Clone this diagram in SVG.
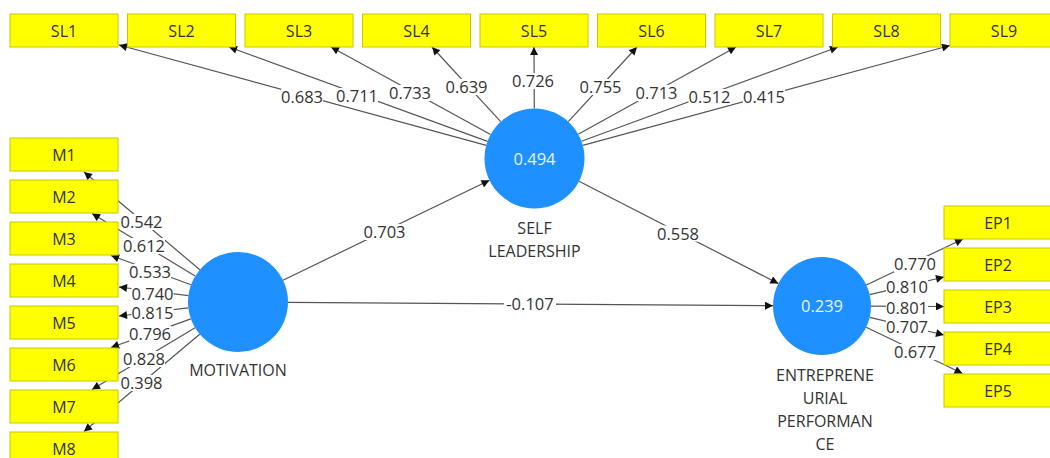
<svg xmlns="http://www.w3.org/2000/svg" width="1050" height="458" viewBox="0 0 1050 458">
  <defs>
    <marker id="arr" viewBox="0 0 10 10" refX="10" refY="5" markerWidth="9" markerHeight="8" markerUnits="userSpaceOnUse" orient="auto">
      <path d="M0,0 L10,5 L0,10 z" fill="#111"/>
    </marker>
  </defs>
  <style>
    .box { fill: #FFFF00; stroke: #C8C800; stroke-width: 1; }
    .lv { fill: #1E90FF; }
    .txt { font-family: "Open Sans", "Liberation Sans", sans-serif; font-size: 16px; fill: #333; text-anchor: middle; }
    .num { font-family: "Open Sans", "Liberation Sans", sans-serif; font-size: 16.5px; fill: #333; text-anchor: middle; }
    .r2 { font-family: "Open Sans", "Liberation Sans", sans-serif; font-size: 16.5px; fill: #EAF3FF; text-anchor: middle; }
    .edge { stroke: #555; stroke-width: 1.2; fill: none; marker-end: url(#arr); }
    .bg { fill: #fff; }
  </style>
  <rect width="1050" height="458" fill="#fff"/>

  <!-- connectors: lines first, then their value labels on white patches -->
  <g id="connectors">
    <!-- self leadership -> indicators -->
    <line class="edge" x1="486.3" y1="145.3" x2="119" y2="45"/>
    <line class="edge" x1="487.5" y1="141.4" x2="229" y2="47"/>
    <line class="edge" x1="490.6" y1="134.5" x2="331" y2="47"/>
    <line class="edge" x1="500.7" y1="121.7" x2="432" y2="47"/>
    <line class="edge" x1="534.3" y1="108.5" x2="534" y2="47"/>
    <line class="edge" x1="568.3" y1="121.7" x2="637" y2="47"/>
    <line class="edge" x1="578.2" y1="134.3" x2="736" y2="47"/>
    <line class="edge" x1="581.4" y1="141.3" x2="838" y2="47"/>
    <line class="edge" x1="582.8" y1="145.4" x2="950" y2="45.5"/>
    <!-- motivation -> indicators -->
    <line class="edge" x1="199.8" y1="269.7" x2="84" y2="172"/>
    <line class="edge" x1="195.2" y1="276.1" x2="92" y2="213.5"/>
    <line class="edge" x1="191" y1="284.8" x2="111" y2="255.5"/>
    <line class="edge" x1="188.4" y1="295.7" x2="119" y2="287"/>
    <line class="edge" x1="188.3" y1="307.8" x2="119" y2="316"/>
    <line class="edge" x1="190.9" y1="318.9" x2="111" y2="347.5"/>
    <line class="edge" x1="195.1" y1="327.7" x2="92" y2="389.5"/>
    <line class="edge" x1="199.7" y1="334.2" x2="84" y2="431.5"/>
    <!-- entrepreneurial performance -> indicators -->
    <line class="edge" x1="866.3" y1="285" x2="963" y2="239"/>
    <line class="edge" x1="869.7" y1="294.7" x2="944" y2="277"/>
    <line class="edge" x1="871" y1="306.2" x2="944" y2="306.5"/>
    <line class="edge" x1="869.7" y1="317.3" x2="944" y2="335"/>
    <line class="edge" x1="866.2" y1="327.2" x2="962.5" y2="373.5"/>
    <!-- structural paths -->
    <line class="edge" x1="283" y1="280.2" x2="489.5" y2="180.3"/>
    <line class="edge" x1="579" y1="181.3" x2="778.4" y2="283.6"/>
    <line class="edge" x1="288" y1="302.3" x2="773" y2="305.7"/>

    <!-- value labels -->
    <g>
      <rect class="bg" x="281" y="89" width="42" height="16"/><text class="num" x="302" y="103">0.683</text>
      <rect class="bg" x="336" y="88" width="42" height="16"/><text class="num" x="357" y="102">0.711</text>
      <rect class="bg" x="389" y="85" width="42" height="16"/><text class="num" x="410" y="99">0.733</text>
      <rect class="bg" x="445.5" y="79" width="42" height="16"/><text class="num" x="466.5" y="93">0.639</text>
      <rect class="bg" x="512" y="73" width="42" height="16"/><text class="num" x="533" y="87">0.726</text>
      <rect class="bg" x="579.5" y="79" width="42" height="16"/><text class="num" x="600.5" y="93">0.755</text>
      <rect class="bg" x="635.5" y="85" width="42" height="16"/><text class="num" x="656.5" y="99">0.713</text>
      <rect class="bg" x="688.5" y="89" width="42" height="16"/><text class="num" x="709.5" y="103">0.512</text>
      <rect class="bg" x="743" y="89" width="42" height="16"/><text class="num" x="764" y="103">0.415</text>

      <rect class="bg" x="120.5" y="214" width="42" height="16"/><text class="num" x="141.5" y="228">0.542</text>
      <rect class="bg" x="123" y="238" width="42" height="16"/><text class="num" x="144" y="252">0.612</text>
      <rect class="bg" x="129" y="264" width="42" height="16"/><text class="num" x="150" y="278">0.533</text>
      <rect class="bg" x="131.5" y="285.5" width="42" height="16"/><text class="num" x="152.5" y="299.5">0.740</text>
      <rect class="bg" x="131.5" y="305" width="42" height="16"/><text class="num" x="152.5" y="319">0.815</text>
      <rect class="bg" x="129" y="325.5" width="42" height="16"/><text class="num" x="150" y="339.5">0.796</text>
      <rect class="bg" x="123" y="351" width="42" height="16"/><text class="num" x="144" y="365">0.828</text>
      <rect class="bg" x="120.5" y="375" width="42" height="16"/><text class="num" x="141.5" y="389">0.398</text>

      <rect class="bg" x="894" y="256" width="42" height="16"/><text class="num" x="915" y="270">0.770</text>
      <rect class="bg" x="886" y="279" width="42" height="16"/><text class="num" x="907" y="293">0.810</text>
      <rect class="bg" x="886" y="299.5" width="42" height="16"/><text class="num" x="907" y="313.5">0.801</text>
      <rect class="bg" x="886" y="319" width="42" height="16"/><text class="num" x="907" y="333">0.707</text>
      <rect class="bg" x="894" y="344" width="42" height="16"/><text class="num" x="915" y="358">0.677</text>

      <rect class="bg" x="363" y="224" width="43" height="16"/><text class="num" x="384.5" y="238">0.703</text>
      <rect class="bg" x="656.5" y="225.5" width="43" height="16"/><text class="num" x="678" y="239.5">0.558</text>
      <rect class="bg" x="504" y="296" width="52" height="16"/><text class="num" x="530" y="310">-0.107</text>
    </g>
  </g>

  <!-- latent variables -->
  <g id="self-leadership">
    <circle class="lv" cx="534.5" cy="158.5" r="50"/>
    <text class="r2" x="534.5" y="164.5">0.494</text>
    <text class="txt" x="534.5" y="234">SELF</text>
    <text class="txt" x="534.5" y="256.5">LEADERSHIP</text>
  </g>
  <g id="motivation">
    <circle class="lv" cx="238" cy="302" r="50"/>
    <text class="txt" x="238" y="376">MOTIVATION</text>
  </g>
  <g id="entrepreneurial-performance">
    <circle class="lv" cx="822" cy="306" r="49"/>
    <text class="r2" x="822" y="312">0.239</text>
    <text class="txt" x="825" y="381">ENTREPRENE</text>
    <text class="txt" x="825" y="404">URIAL</text>
    <text class="txt" x="825" y="427">PERFORMAN</text>
    <text class="txt" x="825" y="450">CE</text>
  </g>

  <!-- indicators: self leadership -->
  <g id="SL1"><rect class="box" x="10" y="14" width="108" height="33"/><text class="txt" x="64" y="37">SL1</text></g>
  <g id="SL2"><rect class="box" x="127.5" y="14" width="108" height="33"/><text class="txt" x="181.5" y="37">SL2</text></g>
  <g id="SL3"><rect class="box" x="245" y="14" width="108" height="33"/><text class="txt" x="299" y="37">SL3</text></g>
  <g id="SL4"><rect class="box" x="362.5" y="14" width="108" height="33"/><text class="txt" x="416.5" y="37">SL4</text></g>
  <g id="SL5"><rect class="box" x="480" y="14" width="108" height="33"/><text class="txt" x="534" y="37">SL5</text></g>
  <g id="SL6"><rect class="box" x="597.5" y="14" width="108" height="33"/><text class="txt" x="651.5" y="37">SL6</text></g>
  <g id="SL7"><rect class="box" x="715" y="14" width="108" height="33"/><text class="txt" x="769" y="37">SL7</text></g>
  <g id="SL8"><rect class="box" x="832.5" y="14" width="108" height="33"/><text class="txt" x="886.5" y="37">SL8</text></g>
  <g id="SL9"><rect class="box" x="950" y="14" width="108" height="33"/><text class="txt" x="1004" y="37">SL9</text></g>

  <!-- indicators: motivation -->
  <g id="M1"><rect class="box" x="10" y="138" width="108" height="33"/><text class="txt" x="64" y="161">M1</text></g>
  <g id="M2"><rect class="box" x="10" y="180" width="108" height="33"/><text class="txt" x="64" y="203">M2</text></g>
  <g id="M3"><rect class="box" x="10" y="222" width="108" height="33"/><text class="txt" x="64" y="245">M3</text></g>
  <g id="M4"><rect class="box" x="10" y="264" width="108" height="33"/><text class="txt" x="64" y="287">M4</text></g>
  <g id="M5"><rect class="box" x="10" y="306" width="108" height="33"/><text class="txt" x="64" y="329">M5</text></g>
  <g id="M6"><rect class="box" x="10" y="348" width="108" height="33"/><text class="txt" x="64" y="371">M6</text></g>
  <g id="M7"><rect class="box" x="10" y="390" width="108" height="33"/><text class="txt" x="64" y="413">M7</text></g>
  <g id="M8"><rect class="box" x="10" y="432" width="108" height="33"/><text class="txt" x="64" y="455">M8</text></g>

  <!-- indicators: entrepreneurial performance -->
  <g id="EP1"><rect class="box" x="944" y="206" width="108" height="33"/><text class="txt" x="998" y="229">EP1</text></g>
  <g id="EP2"><rect class="box" x="944" y="248" width="108" height="33"/><text class="txt" x="998" y="271">EP2</text></g>
  <g id="EP3"><rect class="box" x="944" y="290" width="108" height="33"/><text class="txt" x="998" y="313">EP3</text></g>
  <g id="EP4"><rect class="box" x="944" y="332" width="108" height="33"/><text class="txt" x="998" y="355">EP4</text></g>
  <g id="EP5"><rect class="box" x="944" y="374" width="108" height="33"/><text class="txt" x="998" y="397">EP5</text></g>
</svg>
